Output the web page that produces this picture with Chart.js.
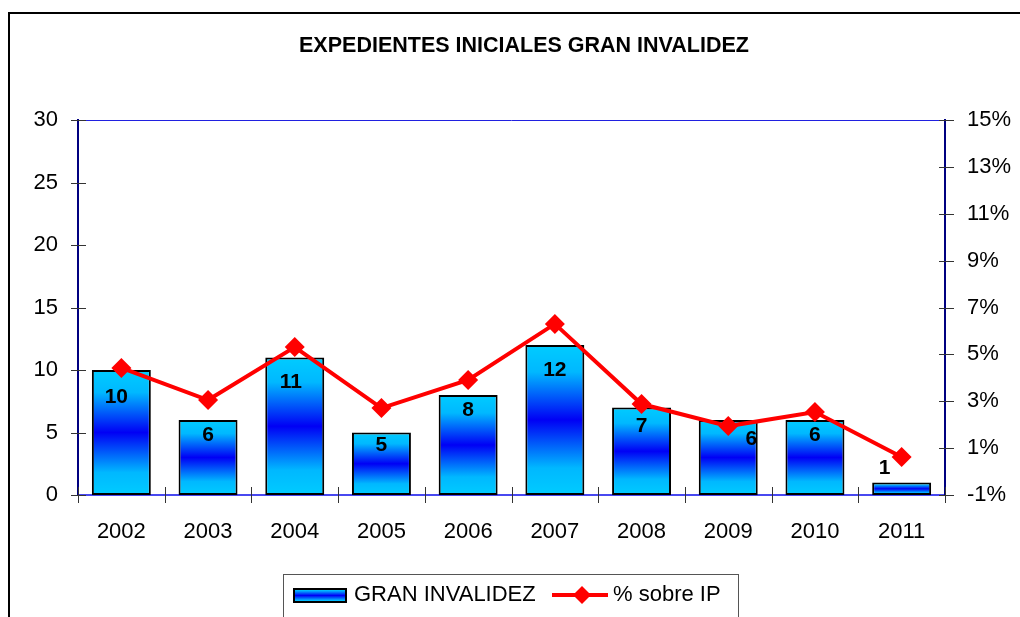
<!DOCTYPE html>
<html>
<head>
<meta charset="utf-8">
<script src="https://cdn.jsdelivr.net/npm/chart.js@4.4.1/dist/chart.umd.min.js"></script>
<style>
  body { margin: 0; background: #fff; }
  #wrap { position: relative; width: 1020px; height: 617px; overflow: hidden; }
  #frame { position: absolute; left: 8px; top: 12px; width: 1100px; height: 700px;
           border-left: 2px solid #000; border-top: 2px solid #000; }
  canvas { position: absolute; left: 0; top: 0; }
</style>
</head>
<body>
<div id="wrap">
  <div id="frame"></div>
  <canvas id="chart" width="1020" height="617"></canvas>
</div>
<script>
// data
const years = ["2002", "2003", "2004", "2005", "2006", "2007", "2008", "2009", "2010", "2011"];
const granInvalidez = [10, 6, 11, 5, 8, 12, 7, 6, 6, 1];
const sobreIP = [4.42, 3.05, 5.31, 2.71, 3.91, 6.30, 2.88, 1.94, 2.54, 0.62];
const leftTicks = [0, 5, 10, 15, 20, 25, 30];
const rightTicks = [-1, 1, 3, 5, 7, 9, 11, 13, 15];

const FONT = "'Liberation Sans', Arial, sans-serif";

// vertical cyan-blue-cyan fill, per bar
function barFill(ctx, top, bottom) {
    const g = ctx.createLinearGradient(0, top, 0, bottom);
    g.addColorStop(0, "#00CCFF");
    g.addColorStop(0.18, "#00B8FF");
    g.addColorStop(0.5, "#0000F5");
    g.addColorStop(0.82, "#00B8FF");
    g.addColorStop(1, "#00CCFF");
    return g;
}

// label nudges (px) so they dodge the line like the original
const labelDx = [-5, 0, -4, 0, 0, 0, 0, 23, 0, -17];
const labelDy = [27, 15, 25, 13, 15, 25, 19, 19, 15, -14];

const extras = {
    id: "extras",
    beforeDatasetsDraw(chart) {
        const { ctx, chartArea: a } = chart;
        ctx.save();
        // top edge of plot
        ctx.strokeStyle = "#2020E0";
        ctx.lineWidth = 1;
        ctx.beginPath();
        ctx.moveTo(a.left, a.top + 0.5);
        ctx.lineTo(a.right, a.top + 0.5);
        ctx.stroke();
        // cross tick marks
        ctx.strokeStyle = "#333";
        ctx.lineWidth = 1;
        const y = chart.scales.y, y1 = chart.scales.y1;
        leftTicks.forEach(v => {
            const p = Math.round(y.getPixelForValue(v)) + 0.5;
            ctx.beginPath(); ctx.moveTo(a.left - 7, p); ctx.lineTo(a.left + 8, p); ctx.stroke();
        });
        rightTicks.forEach(v => {
            const p = Math.round(y1.getPixelForValue(v)) + 0.5;
            ctx.beginPath(); ctx.moveTo(a.right - 6, p); ctx.lineTo(a.right + 9, p); ctx.stroke();
        });
        const step = (a.right - a.left) / years.length;
        for (let i = 0; i <= years.length; i++) {
            const p = Math.round(a.left + i * step) + 0.5;
            ctx.beginPath(); ctx.moveTo(p, a.bottom - 8); ctx.lineTo(p, a.bottom + 8); ctx.stroke();
        }
        ctx.restore();
    },
    afterDatasetsDraw(chart) {
        const { ctx } = chart;
        const meta = chart.getDatasetMeta(1);
        ctx.save();
        ctx.font = "bold 21px " + FONT;
        ctx.fillStyle = "#000";
        ctx.textAlign = "center";
        ctx.textBaseline = "middle";
        meta.data.forEach((bar, i) => {
            ctx.fillText(String(granInvalidez[i]), bar.x + labelDx[i], bar.y + labelDy[i]);
        });
        ctx.restore();
    },
    afterDraw(chart) {
        const { ctx } = chart;
        ctx.save();
        // title
        ctx.font = "bold 21.5px " + FONT;
        ctx.fillStyle = "#000";
        ctx.textAlign = "center";
        ctx.textBaseline = "middle";
        ctx.fillText("EXPEDIENTES INICIALES GRAN INVALIDEZ", 524, 46);

        // legend box
        ctx.strokeStyle = "#555";
        ctx.lineWidth = 1;
        ctx.strokeRect(283.5, 574.5, 455, 44);
        // bar swatch
        ctx.fillStyle = barFill(ctx, 588, 603);
        ctx.fillRect(293, 588, 54, 15);
        ctx.strokeStyle = "#000";
        ctx.lineWidth = 2;
        ctx.strokeRect(294, 589, 52, 13);
        ctx.font = "22px " + FONT;
        ctx.fillStyle = "#000";
        ctx.textAlign = "left";
        ctx.fillText("GRAN INVALIDEZ", 354, 595);
        // line swatch
        ctx.strokeStyle = "#FF0000";
        ctx.lineWidth = 4;
        ctx.beginPath(); ctx.moveTo(552, 595); ctx.lineTo(608, 595); ctx.stroke();
        ctx.fillStyle = "#FF0000";
        ctx.beginPath();
        ctx.moveTo(582, 586); ctx.lineTo(591, 595); ctx.lineTo(582, 604); ctx.lineTo(573, 595);
        ctx.closePath(); ctx.fill();
        ctx.fillStyle = "#000";
        ctx.fillText("% sobre IP", 613, 595);
        ctx.restore();
    }
};

new Chart(document.getElementById("chart"), {
    data: {
        labels: years,
        datasets: [
            {
                type: "line",
                label: "% sobre IP",
                data: sobreIP,
                yAxisID: "y1",
                borderColor: "#FF0000",
                backgroundColor: "#FF0000",
                borderWidth: 4,
                pointStyle: "rectRot",
                pointRadius: 10,
                pointBorderWidth: 0,
                tension: 0,
                order: 1
            },
            {
                type: "bar",
                label: "GRAN INVALIDEZ",
                data: granInvalidez,
                yAxisID: "y",
                backgroundColor(c) {
                    const ch = c.chart;
                    if (!ch.chartArea || c.type !== "data") return "#00CCFF";
                    const ys = ch.scales.y;
                    return barFill(ch.ctx, ys.getPixelForValue(c.raw), ys.getPixelForValue(0));
                },
                borderColor: "#000",
                borderWidth: 2,
                borderSkipped: false,
                barPercentage: 0.68,
                categoryPercentage: 1,
                order: 2
            }
        ]
    },
    options: {
        responsive: false,
        animation: false,
        layout: { padding: { top: 120, left: 0, right: 0, bottom: 0 } },
        plugins: {
            legend: { display: false },
            tooltip: { enabled: false },
            title: { display: false }
        },
        scales: {
            x: {
                grid: { display: false, drawTicks: false },
                border: { color: "#4848F0", width: 2 },
                ticks: { color: "#000", font: { family: FONT, size: 22 }, padding: 24 },
                afterFit(s) { s.height = 122; }
            },
            y: {
                position: "left",
                min: 0, max: 30,
                grid: { display: false, drawTicks: false },
                border: { color: "#000080", width: 2 },
                ticks: { stepSize: 5, color: "#000", font: { family: FONT, size: 22 }, padding: 20 },
                afterFit(s) { s.width = 78; }
            },
            y1: {
                position: "right",
                min: -1, max: 15,
                grid: { display: false, drawTicks: false },
                border: { color: "#000080", width: 2 },
                ticks: {
                    stepSize: 2, color: "#000", font: { family: FONT, size: 22 }, padding: 22,
                    callback: v => v + "%"
                },
                afterFit(s) { s.width = 75; }
            }
        }
    },
    plugins: [extras]
});
</script>
</body>
</html>
